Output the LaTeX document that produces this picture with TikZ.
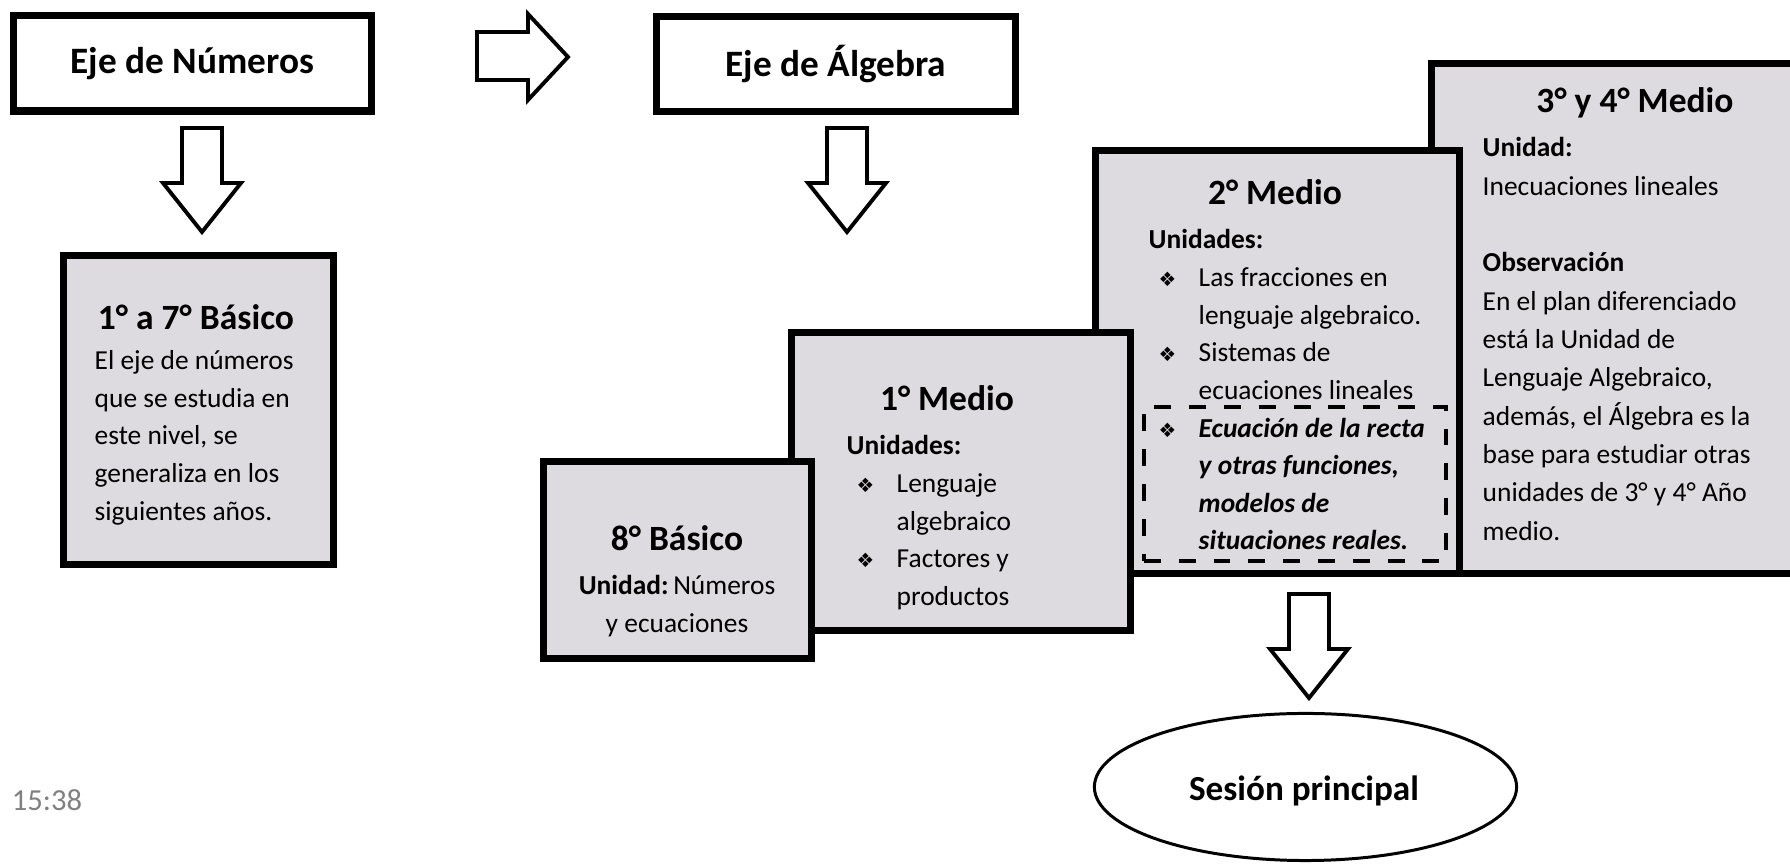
\documentclass[tikz,border=0pt]{standalone}
\usepackage{fontspec}
\setmainfont{Carlito}
\newfontfamily\dingfont{DejaVu Sans}
\usetikzlibrary{shapes.geometric}

\definecolor{boxgray}{RGB}{221,219,224}
\definecolor{clockgray}{RGB}{128,128,128}

% bullet of the lists
\newcommand{\bul}{{\dingfont\fontsize{5.6}{5.6}\selectfont ❖}}
% item line: bullet then text
\newcommand{\itm}{\hspace*{0.1cm}\makebox[0.4cm][l]{\bul}}
\newcommand{\cnt}{\hspace*{0.5cm}}
% big hollow arrow pointing down, centre x and top y
\newcommand{\bigdown}[2]{%
  \draw[blockarrow] (#1-20,#2) -- (#1+20,#2) -- (#1+20,#2+55) -- (#1+39,#2+55)
    -- (#1,#2+104) -- (#1-39,#2+55) -- (#1-20,#2+55) -- cycle;}

\tikzset{
  header/.style={draw, line width=2pt, fill=white, inner sep=0pt,
    font=\fontsize{10.6}{12}\selectfont\bfseries},
  level/.style={draw, line width=2pt, fill=boxgray, inner sep=0pt},
  title/.style={inner sep=0pt, font=\fontsize{10.1}{12}\selectfont\bfseries},
  body/.style={inner sep=0pt, align=left, font=\fontsize{7.8}{10.7}\selectfont},
  blockarrow/.style={draw, line width=1.1pt, fill=white, line join=miter}
}

\begin{document}
\begin{tikzpicture}[x=0.01cm, y=-0.01cm]

	\useasboundingbox (0,0) rectangle (1790,865);
	\clip (0,0) rectangle (1790,865);

	% the two axes
	\node[header, minimum width=3.58cm, minimum height=0.95cm] (numeros) at (192.5,63.5) {Eje de Números};
	\node[header, minimum width=3.59cm, minimum height=0.95cm] (algebra) at (836,64) {Eje de Álgebra};

	\draw[blockarrow] (477,32) -- (528,32) -- (528,14) -- (568,57) -- (528,100) -- (528,80) -- (477,80) -- cycle;
	\bigdown{202}{128}
	\bigdown{847}{128}

	% 1 a 7 basico
	\node[level, minimum width=2.70cm, minimum height=3.09cm] (basico17) at (198.5,410) {};
	\node[title] (t17) at (196,317) {1° a 7° Básico};
	\node[body, anchor=north west] (b17) at (94,350) {El eje de números\\que se estudia en\\este nivel, se\\generaliza en los\\siguientes años.};

	% 3 y 4 medio
	\node[level, minimum width=3.79cm, minimum height=5.10cm] (medio34) at (1621,318.5) {};
	\node[title] (t34) at (1635,103) {3° y 4° Medio};
	\node[body, anchor=north west, font=\fontsize{7.8}{10.9}\selectfont] (b34) at (1482,137) {\textbf{Unidad:}\\Inecuaciones lineales\\[10.9pt]\textbf{Observación}\\En el plan diferenciado\\está la Unidad de\\Lenguaje Algebraico,\\además, el Álgebra es la\\base para estudiar otras\\unidades de 3° y 4° Año\\medio.};

	% 2 medio
	\node[level, minimum width=3.64cm, minimum height=4.23cm] (medio2) at (1277.5,362) {};
	\node[title] (t2) at (1275,192) {2° Medio};
	\node[draw, dash pattern=on 4.8pt off 5.1pt, line width=1.1pt, inner sep=0pt,
		minimum width=3.02cm, minimum height=1.54cm] (recta) at (1295,484) {};
	\node[body, anchor=north west] (b2) at (1148,229) {\textbf{Unidades:}\\\itm Las fracciones en\\\cnt lenguaje algebraico.\\\itm Sistemas de\\\cnt ecuaciones lineales\\\itm \textbf{\textit{Ecuación de la recta}}\\\cnt \textbf{\textit{y otras funciones,}}\\\cnt \textbf{\textit{modelos de}}\\\cnt \textbf{\textit{situaciones reales.}}};

	% 1 medio
	\node[level, minimum width=3.39cm, minimum height=2.98cm] (medio1) at (961,481.5) {};
	\node[title] (t1) at (947,398) {1° Medio};
	\node[body, anchor=north west] (b1) at (846,435) {\textbf{Unidades:}\\\itm Lenguaje\\\cnt algebraico\\\itm Factores y\\\cnt productos};

	% 8 basico
	\node[level, minimum width=2.68cm, minimum height=1.97cm] (basico8) at (677.5,560) {};
	\node[title] (t8) at (677,538) {8° Básico};
	\node[body, align=center, anchor=north] (b8) at (677,575) {\textbf{Unidad:}\,Números\\y ecuaciones};

	% down to the session
	\bigdown{1309}{594}
	\node[draw, ellipse, line width=0.85pt, fill=white, inner sep=0pt,
		minimum width=4.22cm, minimum height=1.47cm] (sesion) at (1305.5,787) {};
	\node[title, font=\fontsize{10}{12}\selectfont\bfseries] (tsesion) at (1304,791) {Sesión principal};

	\node[text=clockgray, font=\fontsize{8.7}{10}\selectfont] (hora) at (47,800) {15:38};

\end{tikzpicture}
\end{document}
